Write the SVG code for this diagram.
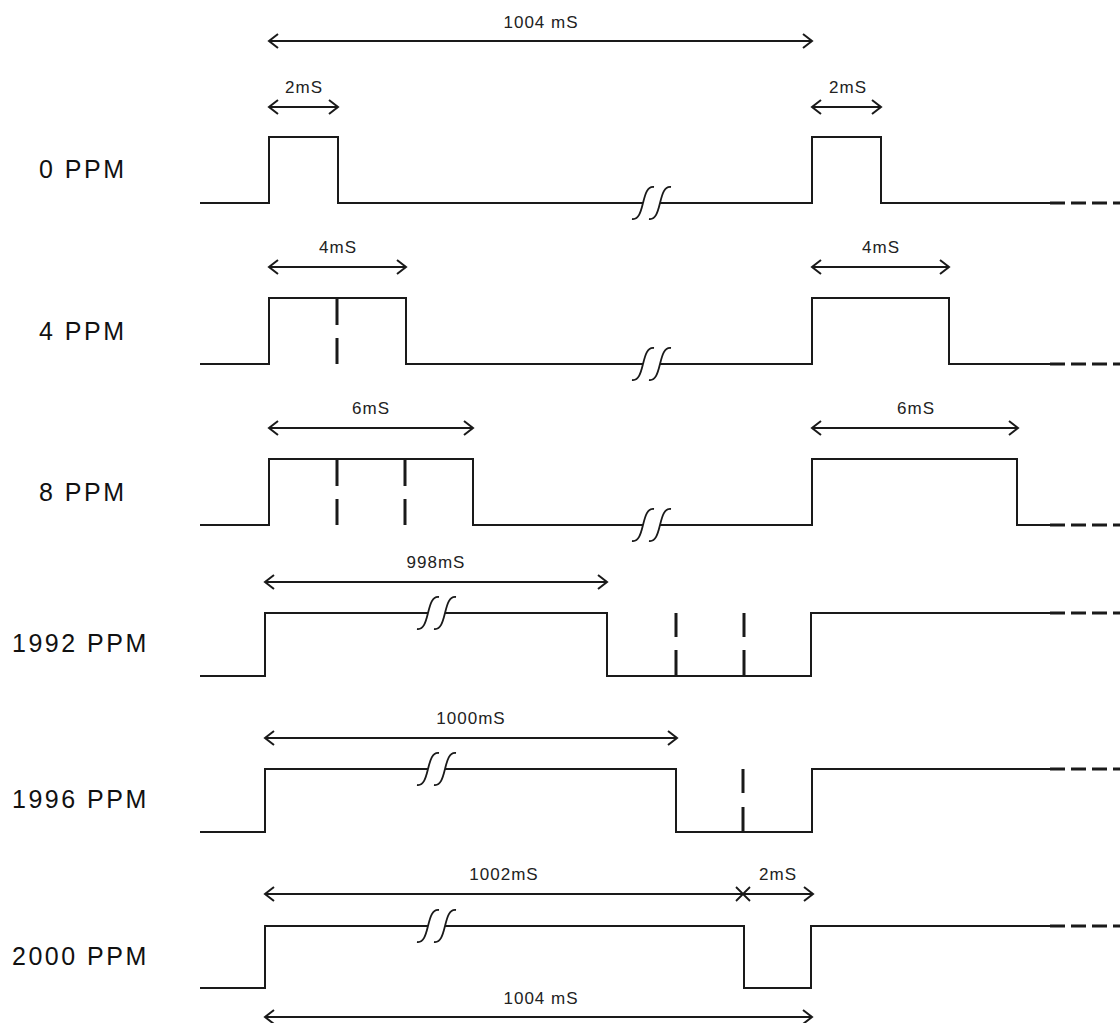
<svg xmlns="http://www.w3.org/2000/svg" width="1120" height="1023" viewBox="0 0 1120 1023">
<style>
.w{fill:none;stroke:#1a1a1a;stroke-width:2;stroke-linejoin:miter}
.d{fill:none;stroke:#1a1a1a;stroke-width:3;stroke-dasharray:15 6}
.m{fill:none;stroke:#1a1a1a;stroke-width:3}
.a{fill:none;stroke:#1a1a1a;stroke-width:1.8}
.br{fill:none;stroke:#1a1a1a;stroke-width:1.8}
.lbl{font-family:"Liberation Sans",Arial,sans-serif;font-size:25px;letter-spacing:2.5px;fill:#111}
.dim{font-family:"Liberation Sans",Arial,sans-serif;font-size:17px;letter-spacing:1px;fill:#222;text-anchor:middle}
</style>
<defs>
<marker id="ah" viewBox="-11 -9 13 18" refX="0" refY="0" markerWidth="13" markerHeight="18" markerUnits="userSpaceOnUse" orient="auto-start-reverse">
<path d="M-9,-7 L0,0 L-9,7" fill="none" stroke="#1a1a1a" stroke-width="2"/>
</marker>
<path id="sq" d="M-11,16 C-4,17 -2,8 0,0 C2,-8 4,-17 11,-16"/>
</defs>

<g id="labels">
<text class="lbl" x="39" y="178">0 PPM</text>
<text class="lbl" x="39" y="340">4 PPM</text>
<text class="lbl" x="39" y="501">8 PPM</text>
<text class="lbl" x="12" y="652">1992 PPM</text>
<text class="lbl" x="12" y="808">1996 PPM</text>
<text class="lbl" x="12" y="965">2000 PPM</text>
</g>

<g id="row-0ppm">
<path class="w" d="M200,203 H269 V137 H338 V203 H643"/>
<path class="w" d="M660,203 H812 V137 H881 V203 H1050"/>
<path class="d" d="M1050,203 H1120"/>
<use href="#sq" x="643" y="203" class="br"/>
<use href="#sq" x="660" y="203" class="br"/>
</g>

<g id="row-4ppm">
<path class="w" d="M200,364 H269 V298 H406 V364 H643"/>
<path class="w" d="M660,364 H812 V298 H949 V364 H1050"/>
<path class="d" d="M1050,364 H1120"/>
<path class="m" d="M337,298 V325 M337,338 V364"/>
<use href="#sq" x="643" y="364" class="br"/>
<use href="#sq" x="660" y="364" class="br"/>
</g>

<g id="row-8ppm">
<path class="w" d="M200,525 H269 V459 H473 V525 H643"/>
<path class="w" d="M660,525 H812 V459 H1017 V525 H1050"/>
<path class="d" d="M1050,525 H1120"/>
<path class="m" d="M337,459 V486 M337,499 V525 M405,459 V486 M405,499 V525"/>
<use href="#sq" x="643" y="525" class="br"/>
<use href="#sq" x="660" y="525" class="br"/>
</g>

<g id="row-1992ppm">
<path class="w" d="M200,676 H265 V613 H428"/>
<path class="w" d="M445,613 H607 V676 H811 V613 H1050"/>
<path class="d" d="M1050,613 H1120"/>
<path class="m" d="M676,613 V637 M676,650 V676 M744,613 V637 M744,650 V676"/>
<use href="#sq" x="428" y="613" class="br"/>
<use href="#sq" x="445" y="613" class="br"/>
</g>

<g id="row-1996ppm">
<path class="w" d="M200,832 H265 V769 H428"/>
<path class="w" d="M445,769 H676 V832 H812 V769 H1050"/>
<path class="d" d="M1050,769 H1120"/>
<path class="m" d="M743,769 V793 M743,807 V832"/>
<use href="#sq" x="428" y="769" class="br"/>
<use href="#sq" x="445" y="769" class="br"/>
</g>

<g id="row-2000ppm">
<path class="w" d="M200,988 H265 V926 H428"/>
<path class="w" d="M445,926 H744 V988 H811 V926 H1050"/>
<path class="d" d="M1050,926 H1120"/>
<use href="#sq" x="428" y="926" class="br"/>
<use href="#sq" x="445" y="926" class="br"/>
</g>

<g id="connectors">
<line class="a" x1="269" y1="41" x2="812" y2="41" marker-start="url(#ah)" marker-end="url(#ah)"/>
<line class="a" x1="269" y1="107" x2="338" y2="107" marker-start="url(#ah)" marker-end="url(#ah)"/>
<line class="a" x1="812" y1="107" x2="881" y2="107" marker-start="url(#ah)" marker-end="url(#ah)"/>
<line class="a" x1="269" y1="267" x2="406" y2="267" marker-start="url(#ah)" marker-end="url(#ah)"/>
<line class="a" x1="812" y1="267" x2="949" y2="267" marker-start="url(#ah)" marker-end="url(#ah)"/>
<line class="a" x1="269" y1="428" x2="473" y2="428" marker-start="url(#ah)" marker-end="url(#ah)"/>
<line class="a" x1="812" y1="428" x2="1018" y2="428" marker-start="url(#ah)" marker-end="url(#ah)"/>
<line class="a" x1="265" y1="582" x2="607" y2="582" marker-start="url(#ah)" marker-end="url(#ah)"/>
<line class="a" x1="265" y1="738" x2="677" y2="738" marker-start="url(#ah)" marker-end="url(#ah)"/>
<line class="a" x1="265" y1="894" x2="743" y2="894" marker-start="url(#ah)"/>
<line class="a" x1="743" y1="894" x2="813" y2="894" marker-end="url(#ah)"/>
<path class="a" d="M736,887 L750,901 M736,901 L750,887"/>
<line class="a" x1="265" y1="1017" x2="812" y2="1017" marker-start="url(#ah)" marker-end="url(#ah)"/>
</g>

<g id="dim-labels">
<text class="dim" x="541" y="28">1004 mS</text>
<text class="dim" x="304" y="93">2mS</text>
<text class="dim" x="848" y="93">2mS</text>
<text class="dim" x="338" y="253">4mS</text>
<text class="dim" x="881" y="253">4mS</text>
<text class="dim" x="371" y="414">6mS</text>
<text class="dim" x="916" y="414">6mS</text>
<text class="dim" x="436" y="568">998mS</text>
<text class="dim" x="471" y="724">1000mS</text>
<text class="dim" x="504" y="880">1002mS</text>
<text class="dim" x="778" y="880">2mS</text>
<text class="dim" x="541" y="1004">1004 mS</text>
</g>
</svg>
